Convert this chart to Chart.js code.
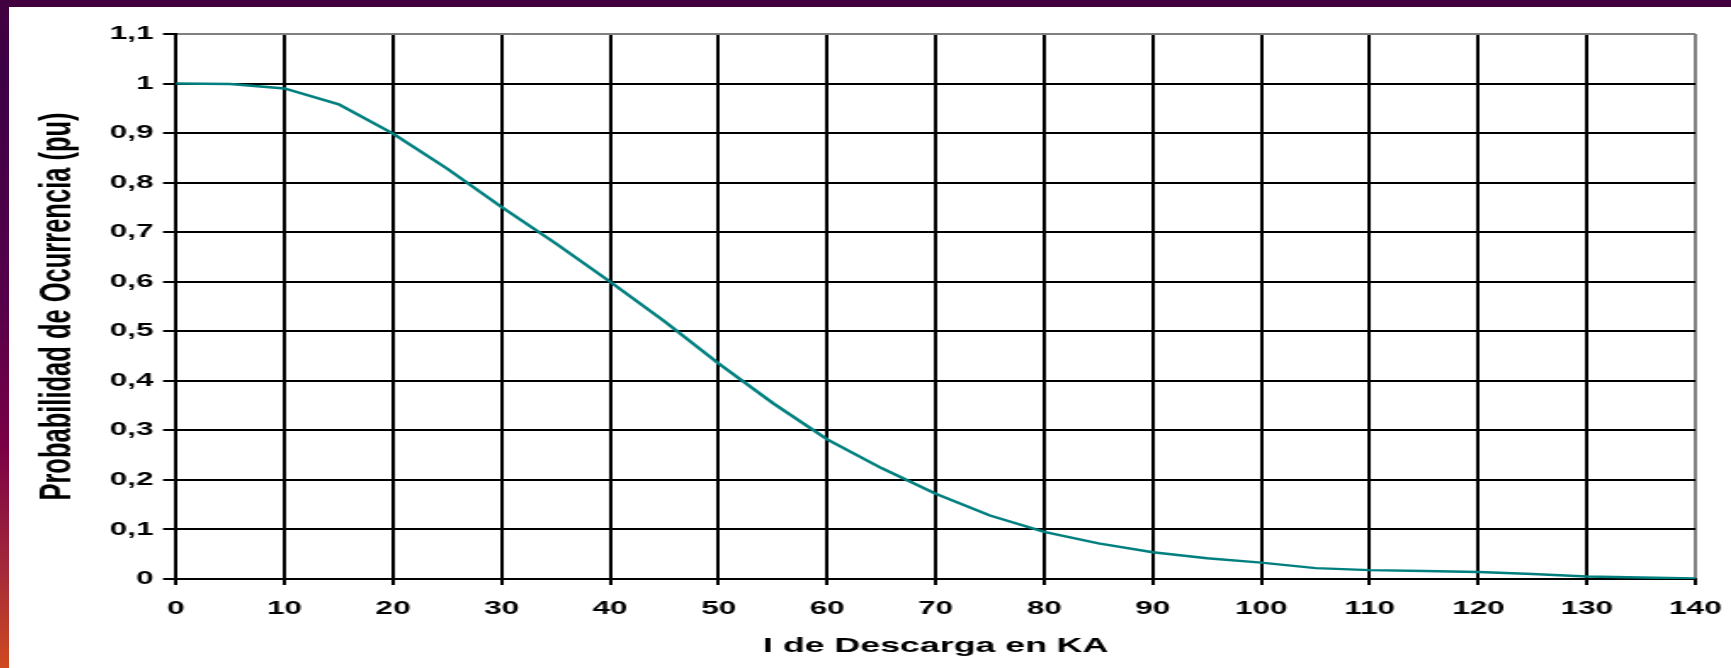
<!DOCTYPE html>
<html>
<head>
<meta charset="utf-8">
<script src="https://cdn.jsdelivr.net/npm/chart.js@4.4.1/dist/chart.umd.min.js"></script>
<style>
  html, body { margin:0; padding:0; background:#fff; overflow:hidden; }
  body { width:1731px; height:668px; position:relative; }
  #topbar { position:absolute; left:0; top:0; width:1731px; height:7px; background:#420040; }
  #leftbar { position:absolute; left:0; top:0; width:9px; height:668px;
    background:linear-gradient(#420040 0%, #3c0044 10%, #55004a 45%, #7a0045 67%, #a3283a 85%, #cf4a20 100%); }
  #wrap { position:absolute; left:9px; top:7px; width:1013px; height:661px;
    transform:scaleX(1.7); transform-origin:0 0; }
</style>
</head>
<body>
<div id="topbar"></div>
<div id="leftbar"></div>
<div id="wrap"><canvas id="chart"></canvas></div>
<script>
// ---- data ----
const kA   = [0, 5, 10, 15, 20, 25, 30, 35, 40, 45, 50, 55, 60, 65, 70, 75, 80, 85, 90, 95, 100, 105, 110, 115, 120, 125, 130, 135, 140];
const prob = [1.0, 0.999, 0.99, 0.958, 0.899, 0.828, 0.751, 0.677, 0.6, 0.52, 0.435, 0.355, 0.282, 0.224, 0.172, 0.128, 0.095, 0.072, 0.054, 0.042, 0.033, 0.022, 0.018, 0.016, 0.014, 0.01, 0.005, 0.003, 0.001];

const xTickValues = [0, 10, 20, 30, 40, 50, 60, 70, 80, 90, 100, 110, 120, 130, 140];
const xTickLabels = ['0', '10', '20', '30', '40', '50', '60', '70', '80', '90', '100', '110', '120', '130', '140'];
const yTickValues = [0, 0.1, 0.2, 0.3, 0.4, 0.5, 0.6, 0.7, 0.8, 0.9, 1.0, 1.1];
const yTickLabels = ['0', '0,1', '0,2', '0,3', '0,4', '0,5', '0,6', '0,7', '0,8', '0,9', '1', '1,1'];

const xTitle = 'I de Descarga en KA';
const yTitle = 'Probabilidad de Ocurrencia (pu)';

const FONT = '"Liberation Sans", Arial, sans-serif';

const points = kA.map((x, i) => ({ x: x, y: prob[i] }));

new Chart(document.getElementById('chart'), {
  type: 'line',
  data: {
    datasets: [{
      data: points,
      borderColor: '#007f7f',
      borderWidth: 2.4,
      pointRadius: 0,
      tension: 0,
      fill: false
    }]
  },
  options: {
    responsive: true,
    maintainAspectRatio: false,
    animation: false,
    devicePixelRatio: 1,
    layout: { padding: { left: 10, top: 27, right: 21, bottom: 0 } },
    plugins: { legend: { display: false }, tooltip: { enabled: false } },
    scales: {
      x: {
        type: 'linear', min: 0, max: 140,
        afterBuildTicks: s => { s.ticks = xTickValues.map(v => ({ value: v })); },
        afterFit: s => { s.height = 89; s.paddingLeft = 0; s.paddingRight = 0; },
        ticks: {
          callback: (v, i) => xTickLabels[i],
          color: '#000', font: { family: FONT, size: 18.5, weight: 'bold' },
          padding: 12.6, maxRotation: 0, minRotation: 0, autoSkip: false
        },
        grid: {
          color: c => (c.tick && c.tick.value === 140) ? '#808080' : '#000',
          lineWidth: 2, tickLength: 6, tickColor: '#000', tickWidth: 2
        },
        border: { color: '#000', width: 2 },
        title: { display: true, text: xTitle, color: '#000',
          font: { family: FONT, size: 21, weight: 'bold' }, padding: { top: 4, bottom: 9 } }
      },
      y: {
        type: 'linear', min: 0, max: 1.1,
        afterBuildTicks: s => { s.ticks = yTickValues.map(v => ({ value: v })); },
        afterFit: s => { s.width = 88.2; s.paddingTop = 0; s.paddingBottom = 0; },
        ticks: {
          callback: (v, i) => yTickLabels[i],
          color: '#000', font: { family: FONT, size: 18.5, weight: 'bold' },
          padding: 5.6, autoSkip: false
        },
        grid: {
          color: c => (c.tick && Math.abs(c.tick.value - 1.1) < 1e-9) ? '#808080' : '#000',
          lineWidth: 2, tickLength: 7.6, tickColor: '#000', tickWidth: 2
        },
        border: { color: '#000', width: 2 },
        title: { display: true, text: yTitle, color: '#000',
          font: { family: FONT, size: 25.5, weight: 'bold' }, padding: { top: 4, bottom: 4 } }
      }
    }
  }
});
</script>
</body>
</html>
